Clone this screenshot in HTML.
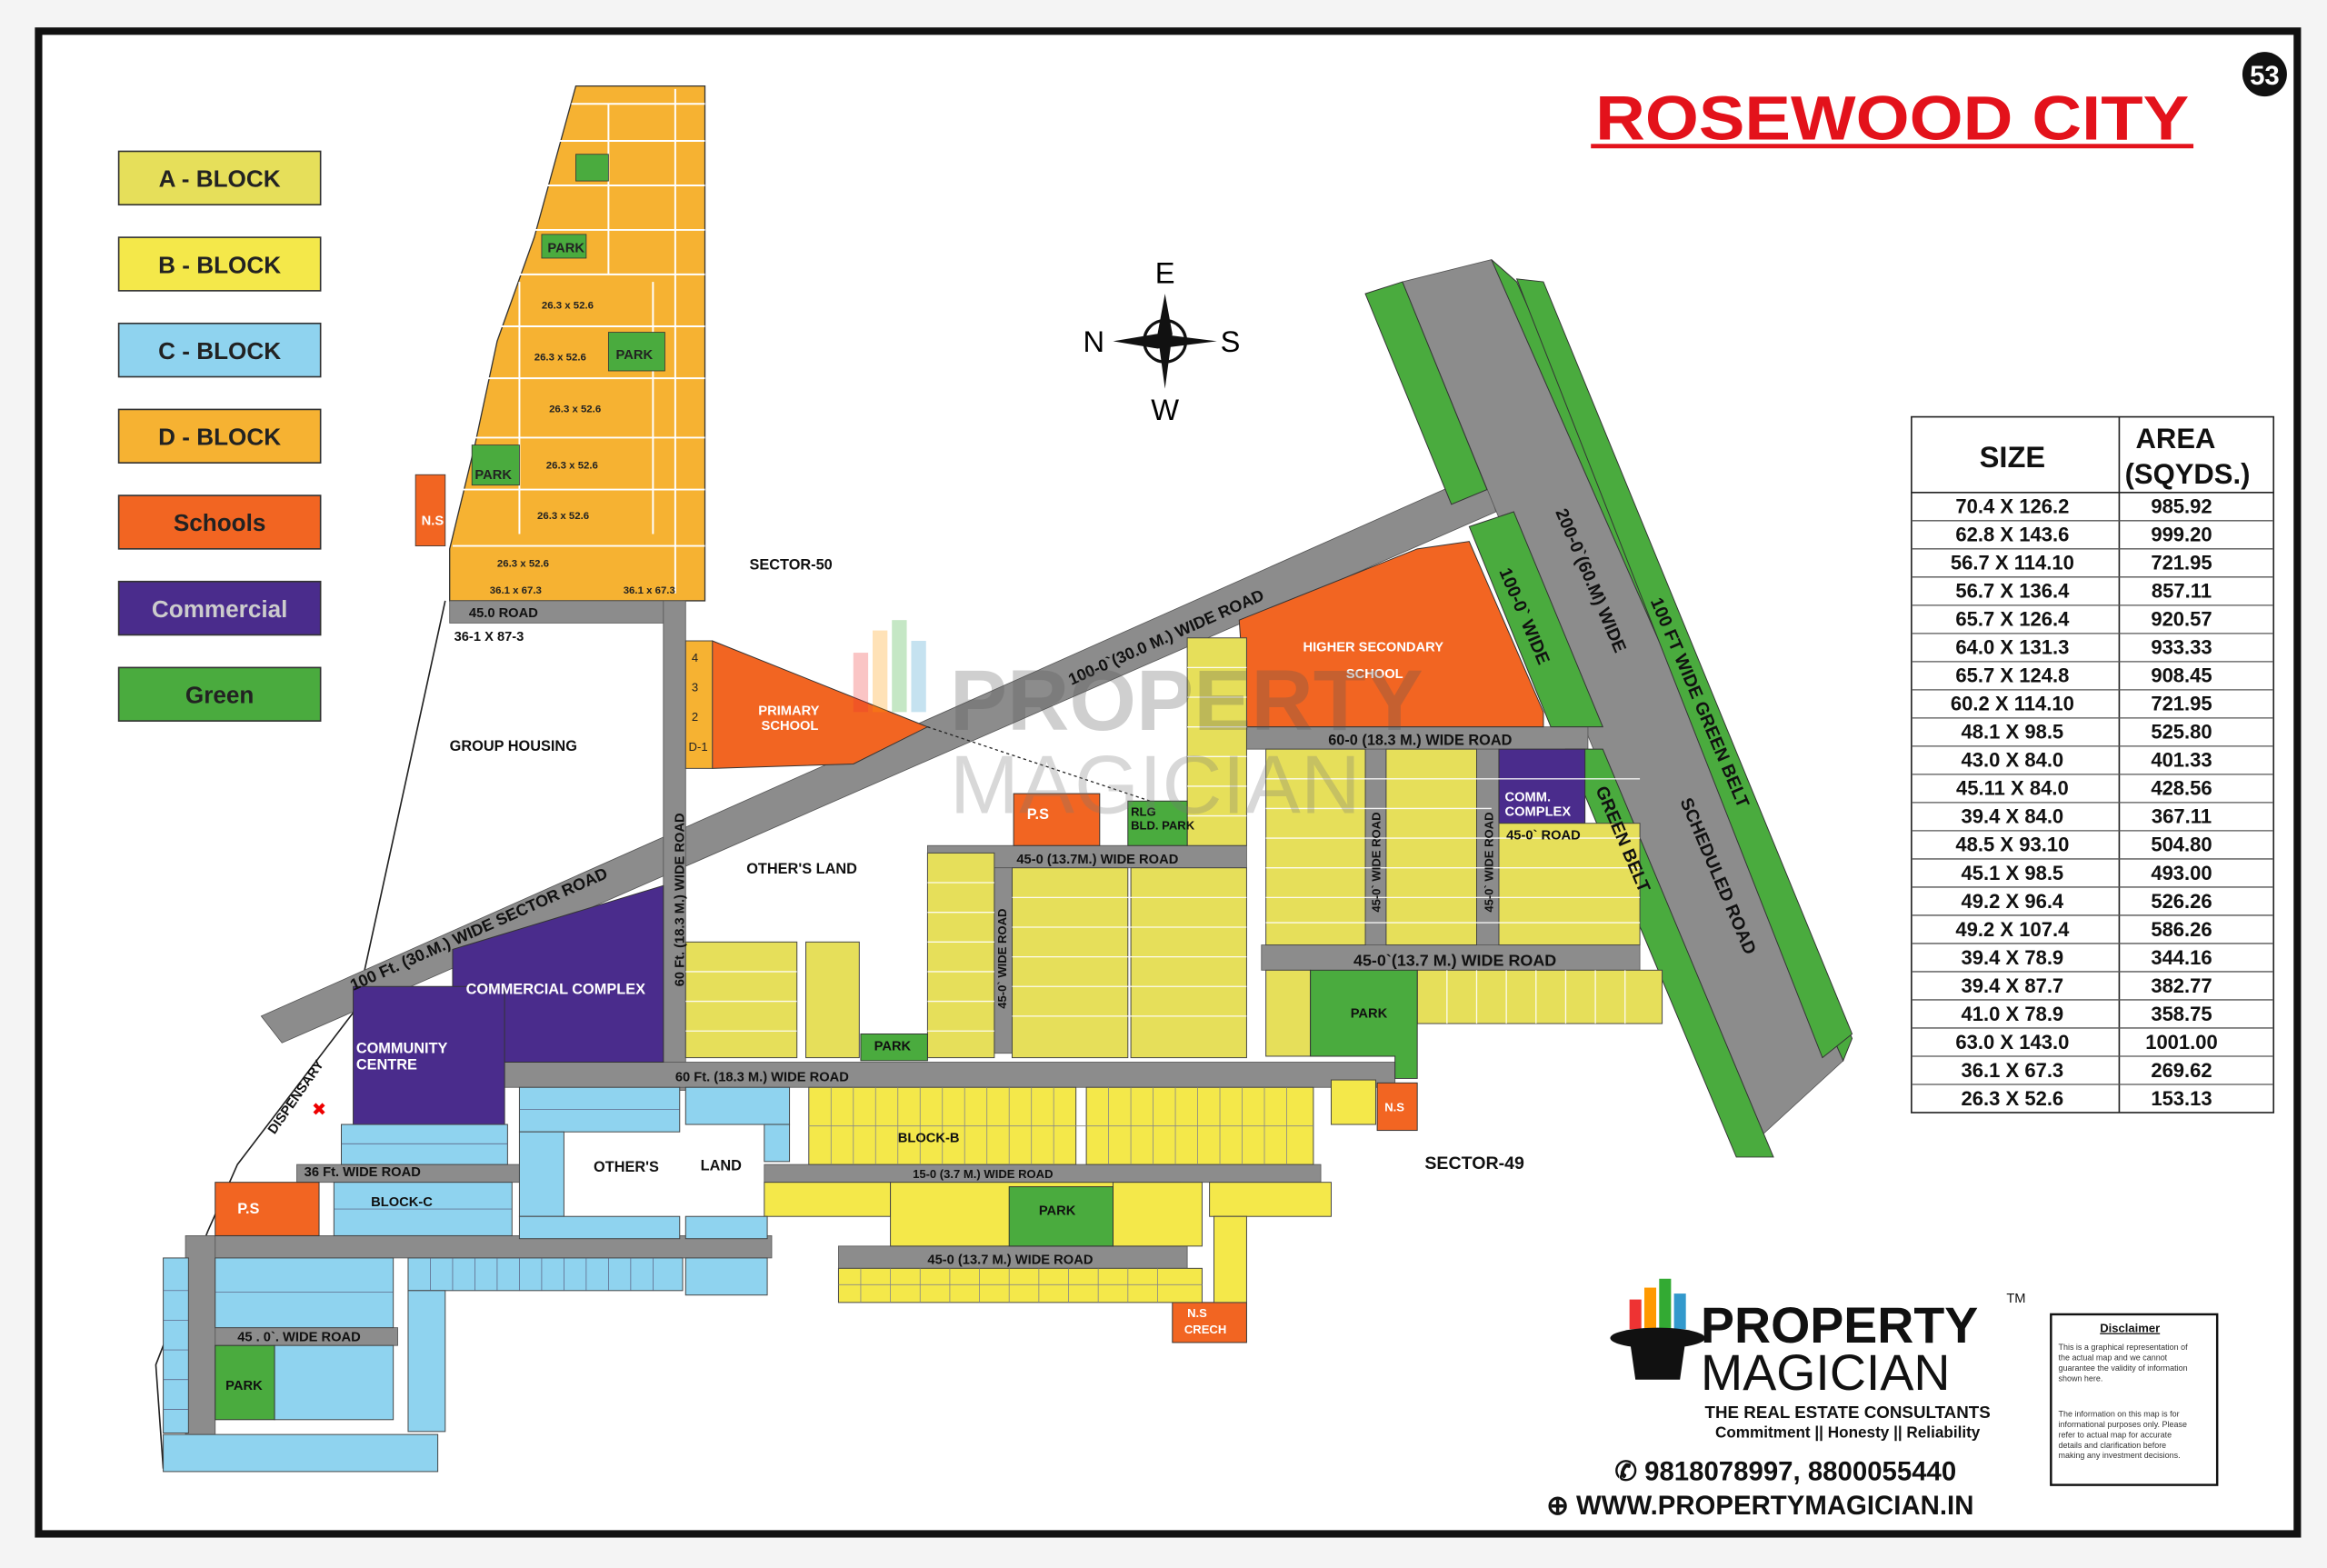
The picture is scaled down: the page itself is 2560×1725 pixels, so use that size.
<!DOCTYPE html>
<html><head><meta charset="utf-8"><style>
html,body{margin:0;padding:0;background:#fff}
svg{display:block}
text{font-family:"Liberation Sans",sans-serif}
</style></head><body>
<svg width="2560" height="1725" viewBox="0 0 1568 1057" preserveAspectRatio="none" xmlns="http://www.w3.org/2000/svg">
<rect width="1568" height="1057" fill="#f4f4f4"/>
<rect x="26" y="21" width="1522" height="1013" fill="#fff" stroke="#111" stroke-width="5"/>
<!-- legend -->
<g stroke="#333" stroke-width="1">
<rect x="80" y="102" width="136" height="36" fill="#e6df5a"/><rect x="80" y="160" width="136" height="36" fill="#f4e84a"/>
<rect x="80" y="218" width="136" height="36" fill="#8fd3ef"/><rect x="80" y="276" width="136" height="36" fill="#f6b232"/>
<rect x="80" y="334" width="136" height="36" fill="#f26522"/><rect x="80" y="392" width="136" height="36" fill="#4a2c8c"/>
<rect x="80" y="450" width="136" height="36" fill="#4aab3e"/>
</g>
<g font-weight="bold" font-size="16" text-anchor="middle" fill="#222">
<text x="148" y="126">A - BLOCK</text><text x="148" y="184">B - BLOCK</text><text x="148" y="242">C - BLOCK</text><text x="148" y="300">D - BLOCK</text><text x="148" y="358">Schools</text><text x="148" y="416" fill="#ccc">Commercial</text><text x="148" y="474">Green</text>
</g>
<!-- title -->
<text x="1275" y="94" font-size="42" font-weight="bold" fill="#e3121b" text-anchor="middle" textLength="400" lengthAdjust="spacingAndGlyphs">ROSEWOOD CITY</text>
<rect x="1072" y="97" width="406" height="3" fill="#e3121b"/>
<circle cx="1526" cy="50" r="15" fill="#111"/><text x="1526" y="57" font-size="18" font-weight="bold" fill="#fff" text-anchor="middle">53</text>
<!-- compass -->
<g font-size="20">
<circle cx="785" cy="230" r="14" fill="#fff" stroke="#111" stroke-width="2"/>
<path d="M785 198 L790 225 L785 262 L780 225Z M750 230 L780 225 L820 230 L780 235Z" fill="#111"/>
<text x="785" y="191" text-anchor="middle" font-family="Liberation Serif">E</text><text x="785" y="283" text-anchor="middle" font-family="Liberation Serif">W</text>
<text x="737" y="237" text-anchor="middle" font-family="Liberation Serif">N</text><text x="829" y="237" text-anchor="middle" font-family="Liberation Serif">S</text>
</g>
<!-- table -->
<g font-size="13.5" font-weight="bold" text-anchor="middle" fill="#111">
<rect x="1288" y="281" width="244" height="469" fill="#fff" stroke="#222" stroke-width="1"/>
<line x1="1428" y1="281" x2="1428" y2="750" stroke="#222"/>
<line x1="1288" y1="332" x2="1532" y2="332" stroke="#222"/>
<text x="1356" y="315" font-size="20">SIZE</text><text x="1466" y="302" font-size="19">AREA</text><text x="1474" y="326" font-size="19">(SQYDS.)</text>
</g>
<g font-size="13.5" font-weight="bold" fill="#111" text-anchor="middle">
<text x="1356" y="346">70.4 X 126.2</text><text x="1470" y="346">985.92</text>
<text x="1356" y="365">62.8 X 143.6</text><text x="1470" y="365">999.20</text>
<text x="1356" y="384">56.7 X 114.10</text><text x="1470" y="384">721.95</text>
<text x="1356" y="403">56.7 X 136.4</text><text x="1470" y="403">857.11</text>
<text x="1356" y="422">65.7 X 126.4</text><text x="1470" y="422">920.57</text>
<text x="1356" y="441">64.0 X 131.3</text><text x="1470" y="441">933.33</text>
<text x="1356" y="460">65.7 X 124.8</text><text x="1470" y="460">908.45</text>
<text x="1356" y="479">60.2 X 114.10</text><text x="1470" y="479">721.95</text>
<text x="1356" y="498">48.1 X 98.5</text><text x="1470" y="498">525.80</text>
<text x="1356" y="517">43.0 X 84.0</text><text x="1470" y="517">401.33</text>
<text x="1356" y="536">45.11 X 84.0</text><text x="1470" y="536">428.56</text>
<text x="1356" y="555">39.4 X 84.0</text><text x="1470" y="555">367.11</text>
<text x="1356" y="574">48.5 X 93.10</text><text x="1470" y="574">504.80</text>
<text x="1356" y="593">45.1 X 98.5</text><text x="1470" y="593">493.00</text>
<text x="1356" y="612">49.2 X 96.4</text><text x="1470" y="612">526.26</text>
<text x="1356" y="631">49.2 X 107.4</text><text x="1470" y="631">586.26</text>
<text x="1356" y="650">39.4 X 78.9</text><text x="1470" y="650">344.16</text>
<text x="1356" y="669">39.4 X 87.7</text><text x="1470" y="669">382.77</text>
<text x="1356" y="688">41.0 X 78.9</text><text x="1470" y="688">358.75</text>
<text x="1356" y="707">63.0 X 143.0</text><text x="1470" y="707">1001.00</text>
<text x="1356" y="726">36.1 X 67.3</text><text x="1470" y="726">269.62</text>
<text x="1356" y="745">26.3 X 52.6</text><text x="1470" y="745">153.13</text>
</g>
<g stroke="#555" stroke-width="0.8">
<line x1="1288" y1="351" x2="1532" y2="351"/><line x1="1288" y1="370" x2="1532" y2="370"/><line x1="1288" y1="389" x2="1532" y2="389"/><line x1="1288" y1="408" x2="1532" y2="408"/><line x1="1288" y1="427" x2="1532" y2="427"/><line x1="1288" y1="446" x2="1532" y2="446"/><line x1="1288" y1="465" x2="1532" y2="465"/><line x1="1288" y1="484" x2="1532" y2="484"/><line x1="1288" y1="503" x2="1532" y2="503"/><line x1="1288" y1="522" x2="1532" y2="522"/><line x1="1288" y1="541" x2="1532" y2="541"/><line x1="1288" y1="560" x2="1532" y2="560"/><line x1="1288" y1="579" x2="1532" y2="579"/><line x1="1288" y1="598" x2="1532" y2="598"/><line x1="1288" y1="617" x2="1532" y2="617"/><line x1="1288" y1="636" x2="1532" y2="636"/><line x1="1288" y1="655" x2="1532" y2="655"/><line x1="1288" y1="674" x2="1532" y2="674"/><line x1="1288" y1="693" x2="1532" y2="693"/><line x1="1288" y1="712" x2="1532" y2="712"/><line x1="1288" y1="731" x2="1532" y2="731"/>
</g>

<!-- boundary lines -->
<path d="M300 405 L240 680 L160 785 L140 830 L105 920 L110 990" fill="none" stroke="#222" stroke-width="1"/>
<!-- D block -->
<path d="M388 58 L475 58 L475 405 L303 405 L303 370 L320 300 L335 230 L360 160 Z" fill="#f6b232" stroke="#333" stroke-width="0.8"/>
<g stroke="#fff" stroke-width="1.2">
<line x1="385" y1="70" x2="475" y2="70"/><line x1="375" y1="95" x2="475" y2="95"/><line x1="365" y1="125" x2="475" y2="125"/><line x1="355" y1="155" x2="475" y2="155"/><line x1="345" y1="185" x2="475" y2="185"/><line x1="335" y1="220" x2="475" y2="220"/><line x1="325" y1="255" x2="475" y2="255"/><line x1="318" y1="295" x2="475" y2="295"/><line x1="310" y1="330" x2="475" y2="330"/><line x1="305" y1="368" x2="475" y2="368"/>
<line x1="455" y1="60" x2="455" y2="400"/><line x1="410" y1="70" x2="410" y2="185"/><line x1="350" y1="190" x2="350" y2="360"/><line x1="440" y1="190" x2="440" y2="360"/>
</g>
<g fill="#4aab3e" stroke="#333" stroke-width="0.5"><rect x="388" y="104" width="22" height="18"/><rect x="365" y="158" width="30" height="16"/><rect x="410" y="224" width="38" height="26"/><rect x="318" y="300" width="32" height="27"/></g>
<g font-size="9" font-weight="bold" fill="#222"><text x="369" y="170">PARK</text><text x="415" y="242">PARK</text><text x="320" y="323">PARK</text>
<text x="365" y="208" font-size="7">26.3 x 52.6</text><text x="360" y="243" font-size="7">26.3 x 52.6</text><text x="370" y="278" font-size="7">26.3 x 52.6</text><text x="368" y="316" font-size="7">26.3 x 52.6</text><text x="362" y="350" font-size="7">26.3 x 52.6</text><text x="335" y="382" font-size="7">26.3 x 52.6</text><text x="330" y="400" font-size="7">36.1 x 67.3</text><text x="420" y="400" font-size="7">36.1 x 67.3</text></g>
<rect x="280" y="320" width="20" height="48" fill="#f26522" stroke="#333" stroke-width="0.5"/><text x="284" y="354" font-size="9" font-weight="bold" fill="#fff">N.S</text>

<!-- gray roads -->
<g fill="#8c8c8c" stroke="#555" stroke-width="0.5">
<path d="M176 685 L1000 318 L1008 345 L190 703Z"/>
<path d="M945 190 L1005 175 L1242 715 L1182 770Z"/>
<rect x="303" y="405" width="157" height="15"/>
<rect x="447" y="405" width="15" height="330"/>
<rect x="340" y="716" width="600" height="17"/>
<rect x="625" y="570" width="215" height="15"/>
<rect x="840" y="490" width="230" height="15"/>
<rect x="850" y="637" width="255" height="17"/>
<rect x="670" y="585" width="12" height="125"/><rect x="920" y="505" width="14" height="132"/><rect x="995" y="505" width="15" height="132"/>
<rect x="200" y="785" width="150" height="12"/><rect x="515" y="785" width="375" height="12"/>
<rect x="140" y="833" width="380" height="15"/><rect x="565" y="840" width="235" height="15"/>
<rect x="143" y="895" width="125" height="12"/>
<rect x="125" y="833" width="20" height="135"/>
</g>
<!-- green belts -->
<g fill="#4aab3e" stroke="#333" stroke-width="0.6">
<path d="M920 198 L945 190 L1002 330 L978 340Z"/>
<path d="M1005 175 L1022 190 L1248 700 L1242 715Z"/>
<path d="M1022 188 L1040 190 L1248 697 L1228 713Z"/>
<path d="M990 355 L1020 345 L1080 490 L1045 490Z"/>
<path d="M1055 505 L1080 505 L1195 780 L1170 780Z"/>
</g>
<!-- schools -->
<g fill="#f26522" stroke="#333" stroke-width="0.6">
<path d="M835 418 L955 370 L990 365 L1040 480 L1040 490 L840 490Z"/>
<path d="M480 432 L625 490 L575 515 L480 518Z"/>
<rect x="683" y="535" width="58" height="35"/>
<rect x="145" y="797" width="70" height="36"/>
<rect x="928" y="730" width="27" height="32"/>
<rect x="790" y="878" width="50" height="27"/>
</g>
<line x1="625" y1="490" x2="790" y2="545" stroke="#222" stroke-dasharray="2,2" stroke-width="0.8"/>
<!-- commercial -->
<g fill="#4a2c8c" stroke="#333" stroke-width="0.6">
<path d="M305 640 L447 597 L447 716 L305 716Z"/>
<rect x="238" y="665" width="102" height="93"/>
<rect x="1010" y="505" width="58" height="50"/>
</g>
<!-- A block yellows -->
<g fill="#e6df5a" stroke="#444" stroke-width="0.6">
<rect x="462" y="432" width="18" height="86" fill="#f6b232"/>
<rect x="462" y="635" width="75" height="78"/><rect x="543" y="635" width="36" height="78"/>
<rect x="625" y="575" width="45" height="138"/><rect x="682" y="585" width="78" height="128"/><rect x="762" y="585" width="78" height="128"/>
<rect x="800" y="430" width="40" height="140"/>
<rect x="853" y="505" width="67" height="132"/><rect x="934" y="505" width="61" height="132"/><rect x="1010" y="555" width="95" height="82"/>
<rect x="853" y="654" width="30" height="58"/><rect x="955" y="654" width="165" height="36"/>
</g>
<g font-size="8" fill="#222"><text x="466" y="446">4</text><text x="466" y="466">3</text><text x="466" y="486">2</text><text x="464" y="506">D-1</text></g>
<g stroke="#fff" stroke-width="0.8" opacity="0.9">
<line x1="625" y1="595" x2="670" y2="595"/><line x1="625" y1="615" x2="670" y2="615"/><line x1="625" y1="635" x2="670" y2="635"/><line x1="625" y1="655" x2="670" y2="655"/><line x1="625" y1="675" x2="670" y2="675"/><line x1="625" y1="695" x2="670" y2="695"/>
<line x1="682" y1="605" x2="840" y2="605"/><line x1="682" y1="625" x2="840" y2="625"/><line x1="682" y1="645" x2="840" y2="645"/><line x1="682" y1="665" x2="840" y2="665"/><line x1="682" y1="685" x2="840" y2="685"/>
<line x1="853" y1="525" x2="1105" y2="525"/><line x1="853" y1="545" x2="1005" y2="545"/><line x1="853" y1="565" x2="1105" y2="565"/><line x1="853" y1="585" x2="1105" y2="585"/><line x1="853" y1="605" x2="1105" y2="605"/><line x1="853" y1="622" x2="1105" y2="622"/>
<line x1="800" y1="450" x2="840" y2="450"/><line x1="800" y1="470" x2="840" y2="470"/><line x1="800" y1="490" x2="840" y2="490"/><line x1="800" y1="510" x2="840" y2="510"/><line x1="800" y1="530" x2="840" y2="530"/><line x1="800" y1="550" x2="840" y2="550"/>
<line x1="975" y1="654" x2="975" y2="690"/><line x1="995" y1="654" x2="995" y2="690"/><line x1="1015" y1="654" x2="1015" y2="690"/><line x1="1035" y1="654" x2="1035" y2="690"/><line x1="1055" y1="654" x2="1055" y2="690"/><line x1="1075" y1="654" x2="1075" y2="690"/><line x1="1095" y1="654" x2="1095" y2="690"/>
<line x1="462" y1="655" x2="537" y2="655"/><line x1="462" y1="675" x2="537" y2="675"/><line x1="462" y1="695" x2="537" y2="695"/>
</g>
<!-- B block -->
<g fill="#f4e84a" stroke="#444" stroke-width="0.6">
<rect x="545" y="733" width="180" height="52"/><rect x="732" y="733" width="153" height="52"/><rect x="897" y="728" width="30" height="30"/>
<rect x="515" y="797" width="85" height="23"/><rect x="600" y="797" width="195" height="43"/><rect x="750" y="797" width="60" height="43"/>
<rect x="815" y="797" width="82" height="23"/><rect x="818" y="820" width="22" height="58"/>
<rect x="565" y="855" width="245" height="23"/>
</g>
<g stroke="#888" stroke-width="0.5">
<line x1="545" y1="759" x2="885" y2="759"/><line x1="565" y1="866" x2="810" y2="866"/>
<line x1="560" y1="733" x2="560" y2="785"/><line x1="575" y1="733" x2="575" y2="785"/><line x1="590" y1="733" x2="590" y2="785"/><line x1="605" y1="733" x2="605" y2="785"/><line x1="620" y1="733" x2="620" y2="785"/><line x1="635" y1="733" x2="635" y2="785"/><line x1="650" y1="733" x2="650" y2="785"/><line x1="665" y1="733" x2="665" y2="785"/><line x1="680" y1="733" x2="680" y2="785"/><line x1="695" y1="733" x2="695" y2="785"/><line x1="710" y1="733" x2="710" y2="785"/>
<line x1="747" y1="733" x2="747" y2="785"/><line x1="762" y1="733" x2="762" y2="785"/><line x1="777" y1="733" x2="777" y2="785"/><line x1="792" y1="733" x2="792" y2="785"/><line x1="807" y1="733" x2="807" y2="785"/><line x1="822" y1="733" x2="822" y2="785"/><line x1="837" y1="733" x2="837" y2="785"/><line x1="852" y1="733" x2="852" y2="785"/><line x1="867" y1="733" x2="867" y2="785"/>
<line x1="580" y1="855" x2="580" y2="878"/><line x1="600" y1="855" x2="600" y2="878"/><line x1="620" y1="855" x2="620" y2="878"/><line x1="640" y1="855" x2="640" y2="878"/><line x1="660" y1="855" x2="660" y2="878"/><line x1="680" y1="855" x2="680" y2="878"/><line x1="700" y1="855" x2="700" y2="878"/><line x1="720" y1="855" x2="720" y2="878"/><line x1="740" y1="855" x2="740" y2="878"/><line x1="760" y1="855" x2="760" y2="878"/><line x1="780" y1="855" x2="780" y2="878"/>
</g>
<!-- C block -->
<g fill="#8fd3ef" stroke="#444" stroke-width="0.6">
<rect x="230" y="758" width="112" height="27"/>
<rect x="350" y="733" width="108" height="30"/><rect x="350" y="763" width="30" height="57"/><rect x="350" y="820" width="108" height="15"/>
<rect x="462" y="733" width="70" height="25"/><rect x="515" y="758" width="17" height="25"/><rect x="462" y="820" width="55" height="15"/>
<rect x="225" y="797" width="120" height="36"/>
<rect x="275" y="848" width="185" height="22"/><rect x="462" y="848" width="55" height="25"/>
<rect x="145" y="848" width="120" height="47"/><rect x="275" y="870" width="25" height="95"/>
<rect x="110" y="848" width="17" height="118"/><rect x="185" y="907" width="80" height="50"/>
<rect x="110" y="967" width="185" height="25"/>
</g>
<g stroke="#557" stroke-width="0.4">
<line x1="290" y1="848" x2="290" y2="870"/><line x1="305" y1="848" x2="305" y2="870"/><line x1="320" y1="848" x2="320" y2="870"/><line x1="335" y1="848" x2="335" y2="870"/><line x1="350" y1="848" x2="350" y2="870"/><line x1="365" y1="848" x2="365" y2="870"/><line x1="380" y1="848" x2="380" y2="870"/><line x1="395" y1="848" x2="395" y2="870"/><line x1="410" y1="848" x2="410" y2="870"/><line x1="425" y1="848" x2="425" y2="870"/><line x1="440" y1="848" x2="440" y2="870"/>
<line x1="230" y1="771" x2="342" y2="771"/><line x1="145" y1="871" x2="265" y2="871"/><line x1="110" y1="870" x2="127" y2="870"/><line x1="110" y1="890" x2="127" y2="890"/><line x1="110" y1="910" x2="127" y2="910"/><line x1="110" y1="930" x2="127" y2="930"/><line x1="110" y1="950" x2="127" y2="950"/>
<line x1="225" y1="815" x2="345" y2="815"/><line x1="350" y1="748" x2="458" y2="748"/>
</g>
<rect x="145" y="907" width="40" height="50" fill="#4aab3e" stroke="#333" stroke-width="0.6"/>
<!-- parks -->
<g fill="#4aab3e" stroke="#333" stroke-width="0.6">
<rect x="580" y="697" width="45" height="18"/><path d="M883 654 L955 654 L955 727 L940 727 L940 712 L883 712Z"/><rect x="680" y="800" width="70" height="40"/><rect x="760" y="540" width="40" height="30"/>
</g>
<!-- labels on map -->
<g font-size="10" font-weight="bold" fill="#111">
<text x="505" y="384">SECTOR-50</text><text x="303" y="506">GROUP HOUSING</text><text x="503" y="589">OTHER'S LAND</text>
<text x="960" y="788" font-size="12">SECTOR-49</text><text x="400" y="790">OTHER'S</text><text x="472" y="789">LAND</text>
<text x="314" y="670" fill="#fff">COMMERCIAL COMPLEX</text><text x="240" y="710" fill="#fff">COMMUNITY</text><text x="240" y="721" fill="#fff">CENTRE</text>
<text x="1014" y="540" fill="#fff" font-size="9">COMM.</text><text x="1014" y="550" fill="#fff" font-size="9">COMPLEX</text>
<text x="878" y="439" fill="#fff" font-size="9">HIGHER SECONDARY</text><text x="907" y="457" fill="#fff" font-size="9">SCHOOL</text>
<text x="511" y="482" fill="#fff" font-size="9">PRIMARY</text><text x="513" y="492" fill="#fff" font-size="9">SCHOOL</text>
<text x="692" y="552" fill="#fff">P.S</text><text x="160" y="818" fill="#fff">P.S</text><text x="933" y="749" fill="#fff" font-size="8">N.S</text>
<text x="800" y="888" fill="#fff" font-size="8">N.S</text><text x="798" y="899" fill="#fff" font-size="8">CRECH</text>
<text x="589" y="708" font-size="9">PARK</text><text x="910" y="686" font-size="9">PARK</text><text x="700" y="819" font-size="9">PARK</text><text x="152" y="937" font-size="9">PARK</text>
<text x="762" y="550" font-size="8">RLG</text><text x="762" y="559" font-size="8">BLD. PARK</text>
<text x="316" y="416" font-size="9">45.0 ROAD</text><text x="306" y="432" font-size="9">36-1 X 87-3</text>
<text x="205" y="793" font-size="9">36 Ft. WIDE ROAD</text><text x="250" y="813" font-size="9">BLOCK-C</text>
<text x="455" y="729" font-size="9">60 Ft. (18.3 M.) WIDE ROAD</text>
<text x="685" y="582" font-size="9">45-0 (13.7M.) WIDE ROAD</text><text x="895" y="502" font-size="10">60-0 (18.3 M.) WIDE ROAD</text>
<text x="912" y="651" font-size="11">45-0`(13.7 M.) WIDE ROAD</text><text x="1015" y="566" font-size="9">45-0` ROAD</text>
<text x="615" y="794" font-size="8">15-0 (3.7 M.) WIDE ROAD</text><text x="625" y="852" font-size="9">45-0 (13.7 M.) WIDE ROAD</text>
<text x="160" y="904" font-size="9">45 . 0`. WIDE ROAD</text><text x="605" y="770" font-size="9">BLOCK-B</text>
</g>
<g font-size="11" font-weight="bold" fill="#111">
<text transform="translate(238,668) rotate(-24)">100 Ft. (30.M.) WIDE SECTOR ROAD</text>
<text transform="translate(722,462) rotate(-24)">100-0`(30.0 M.) WIDE ROAD</text>
<text transform="translate(1048,345) rotate(67)" font-size="12">200-0`(60.M) WIDE</text>
<text transform="translate(1112,405) rotate(67)" font-size="12">100 FT WIDE GREEN BELT</text>
<text transform="translate(1132,540) rotate(67)" font-size="12">SCHEDULED ROAD</text>
<text transform="translate(1075,532) rotate(67)" font-size="12">GREEN BELT</text>
<text transform="translate(1010,385) rotate(67)" font-size="12">100-0` WIDE</text>
<text transform="translate(461,665) rotate(-90)" font-size="9">60 Ft. (18.3 M.) WIDE ROAD</text>
<text transform="translate(678,680) rotate(-90)" font-size="8">45-0` WIDE ROAD</text>
<text transform="translate(930,615) rotate(-90)" font-size="8">45-0` WIDE ROAD</text>
<text transform="translate(1006,615) rotate(-90)" font-size="8">45-0` WIDE ROAD</text>
<text transform="translate(185,765) rotate(-55)" font-size="9">DISPENSARY</text>
</g>
<text x="210" y="752" font-size="12" fill="#e00">✖</text>
<!-- watermark -->
<g opacity="0.28">
<rect x="575" y="440" width="10" height="40" fill="#e33"/><rect x="588" y="425" width="10" height="55" fill="#f90"/><rect x="601" y="418" width="10" height="62" fill="#3a3"/><rect x="614" y="432" width="10" height="48" fill="#39c"/>
<text x="640" y="492" font-size="58" font-weight="bold" fill="#555">PROPERTY</text>
<text x="640" y="548" font-size="56" fill="#777">MAGICIAN</text>
</g>
<!-- logo bottom -->
<g>
<rect x="1098" y="876" width="8" height="20" fill="#e33"/><rect x="1108" y="868" width="8" height="28" fill="#f90"/><rect x="1118" y="862" width="8" height="34" fill="#3a3"/><rect x="1128" y="872" width="8" height="24" fill="#39c"/>
<ellipse cx="1117" cy="902" rx="32" ry="7" fill="#111"/><path d="M1098 902 L1136 902 L1132 930 L1102 930Z" fill="#111"/>
<text x="1146" y="905" font-size="34" font-weight="bold" fill="#111">PROPERTY</text>
<text x="1146" y="937" font-size="34" fill="#111">MAGICIAN</text>
<text x="1352" y="878" font-size="9" fill="#111">TM</text>
<text x="1245" y="956" font-size="11.5" font-weight="bold" fill="#111" text-anchor="middle">THE REAL ESTATE CONSULTANTS</text>
<text x="1245" y="969" font-size="10.5" font-weight="bold" fill="#111" text-anchor="middle">Commitment || Honesty || Reliability</text>
<text x="1088" y="998" font-size="18" font-weight="bold" fill="#111">✆ 9818078997, 8800055440</text>
<text x="1042" y="1021" font-size="18" font-weight="bold" fill="#111">⊕ WWW.PROPERTYMAGICIAN.IN</text>
</g>
<rect x="1382" y="886" width="112" height="115" fill="#fff" stroke="#111" stroke-width="1.5"/>
<g font-size="5.5" fill="#333">
<text x="1415" y="898" font-size="8" font-weight="bold" fill="#111" text-decoration="underline">Disclaimer</text>
<text x="1387" y="910">This is a graphical representation of</text><text x="1387" y="917">the actual map and we cannot</text><text x="1387" y="924">guarantee the validity of information</text><text x="1387" y="931">shown here.</text>
<text x="1387" y="955">The information on this map is for</text><text x="1387" y="962">informational purposes only. Please</text><text x="1387" y="969">refer to actual map for accurate</text><text x="1387" y="976">details and clarification before</text><text x="1387" y="983">making any investment decisions.</text>
</g>
</svg>
</body></html>
